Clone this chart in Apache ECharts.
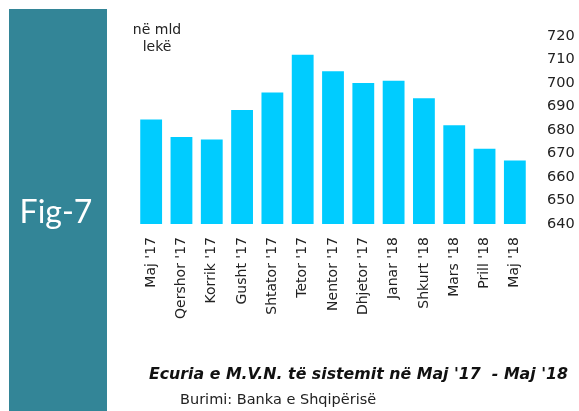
<!DOCTYPE html>
<html>
<head>
<meta charset="utf-8">
<script src="https://cdn.jsdelivr.net/npm/echarts@6/dist/echarts.min.js"></script>
<style>
  html, body { margin: 0; padding: 0; background: #fff; }
  #chart { width: 579px; height: 411px; }
</style>
</head>
<body>
<div id="chart"></div>
<script>
  // muajt dhe vlerat (në mld lekë)
  const months = ["Maj '17", "Qershor '17", "Korrik '17", "Gusht '17", "Shtator '17", "Tetor '17",
    "Nentor '17", "Dhjetor '17", "Janar '18", "Shkurt '18", "Mars '18", "Prill '18", "Maj '18"];
  const mvn = [684.5, 677, 676, 688.5, 696, 712, 705, 700, 701, 693.5, 682, 672, 667];
  const yTicks = [640, 650, 660, 670, 680, 690, 700, 710, 720];

  const chart = echarts.init(document.getElementById('chart'));

  const option = {
    animation: false,
    grid: {
      left: 136,
      right: 49,
      top: 36,
      bottom: 187
    },
    graphic: [
      {
        type: 'rect',
        shape: { x: 9, y: 9, width: 98, height: 410 },
        style: { fill: '#338597' }
      },
      {
        type: 'text',
        x: 56, y: 213,
        style: {
          text: 'Fig-7',
          fill: '#fff',
          font: '32px Lato',
          align: 'center',
          verticalAlign: 'middle'
        }
      },
      {
        type: 'text',
        x: 157, y: 22,
        style: {
          text: 'në mld\nlekë',
          fill: '#222',
          font: '14px "DejaVu Sans"',
          align: 'center',
          lineHeight: 17
        }
      },
      {
        type: 'text',
        x: 568, y: 375,
        style: {
          text: "Ecuria e M.V.N. të sistemit në Maj '17  - Maj '18",
          fill: '#111',
          font: 'italic bold 15.8px "DejaVu Sans"',
          align: 'right',
          verticalAlign: 'middle'
        }
      },
      {
        type: 'text',
        x: 180, y: 400,
        style: {
          text: 'Burimi: Banka e Shqipërisë',
          fill: '#222',
          font: '14.5px "DejaVu Sans"',
          align: 'left',
          verticalAlign: 'middle'
        }
      }
    ],
    xAxis: {
      type: 'category',
      data: months,
      axisLine: { show: false },
      axisTick: { show: false },
      axisLabel: {
        rotate: 90,
        interval: 0,
        margin: 13,
        color: '#222',
        fontSize: 14,
        fontFamily: 'DejaVu Sans'
      }
    },
    yAxis: {
      type: 'value',
      position: 'right',
      min: yTicks[0],
      max: yTicks[yTicks.length - 1],
      interval: 10,
      splitLine: { show: false },
      axisLine: { show: false },
      axisTick: { show: false },
      axisLabel: {
        margin: 17,
        color: '#222',
        fontSize: 14.5,
        fontFamily: 'DejaVu Sans'
      }
    },
    series: [
      {
        type: 'bar',
        data: mvn,
        barWidth: '72%',
        itemStyle: { color: '#00CCFF' }
      }
    ]
  };

  chart.setOption(option);
</script>
</body>
</html>
